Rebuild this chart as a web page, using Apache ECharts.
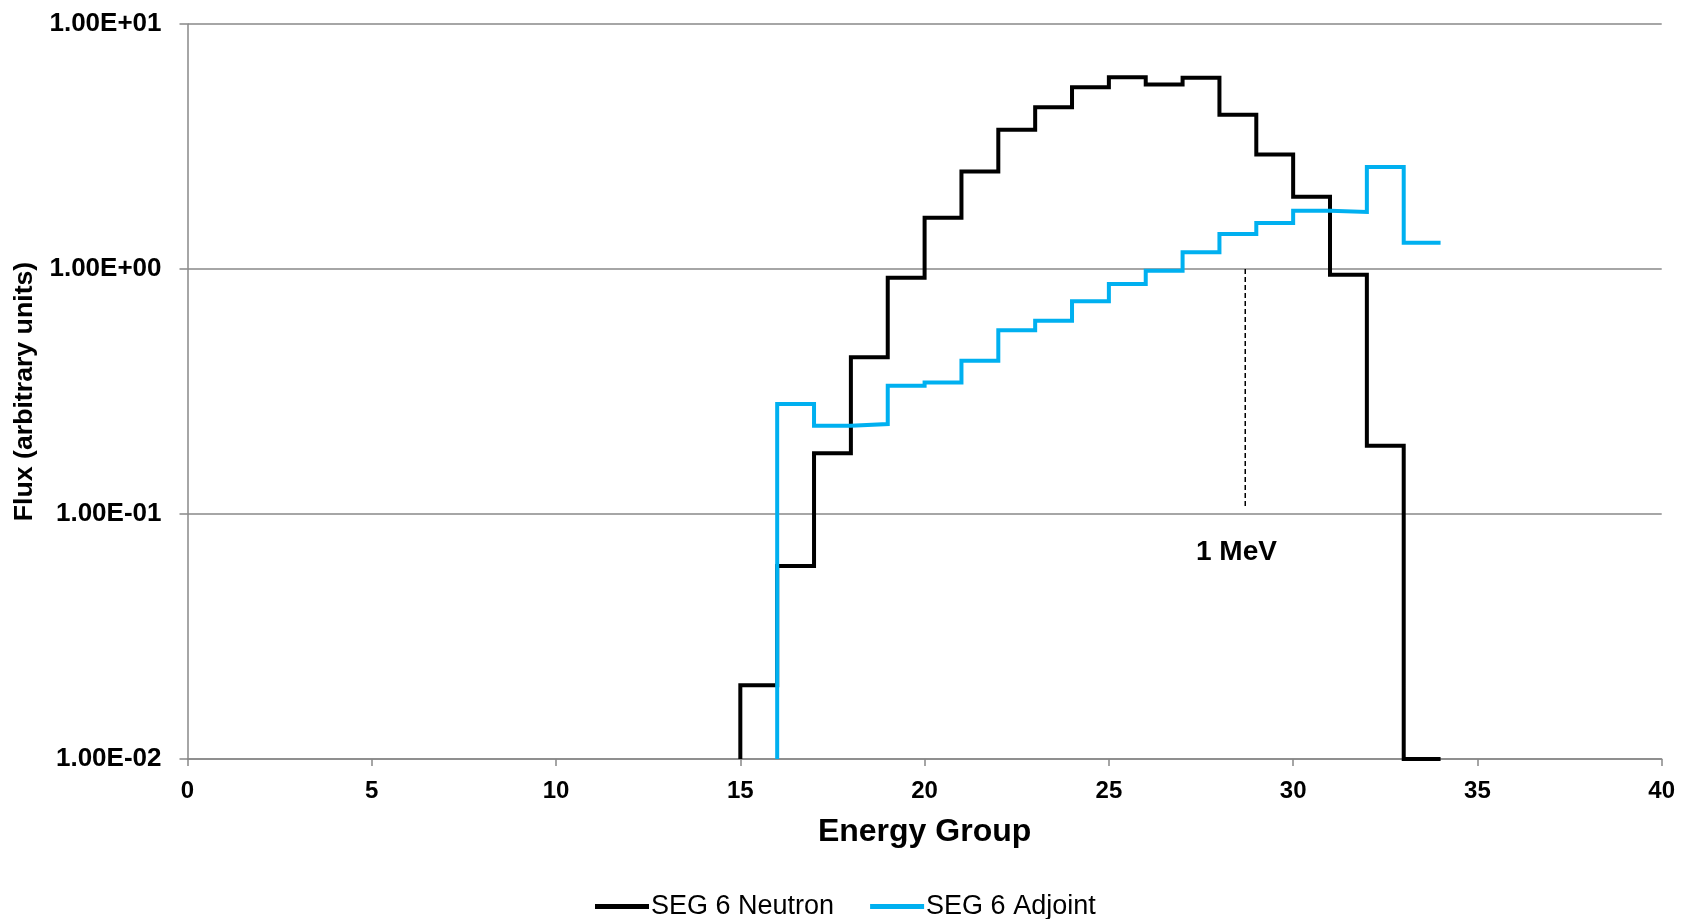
<!DOCTYPE html>
<html>
<head>
<meta charset="utf-8">
<script src="https://cdn.jsdelivr.net/npm/echarts@6/dist/echarts.min.js"></script>
<style>
html,body{margin:0;padding:0;background:#fff;}
#chart{width:1681px;height:919px;}
</style>
</head>
<body>
<div id="chart"></div>
<script>
// ---- data ----
var neutronGroups = [15,16,17,18,19,20,21,22,23,24,25,26,27,28,29,30,31,32,33];
var neutronFlux   = [0.020,0.0614,0.177,0.436,0.92,1.62,2.50,3.70,4.57,5.52,6.06,5.66,6.03,4.26,2.93,1.97,0.948,0.19,0.01];
var adjointGroups = [16,17,18,19,20,21,22,23,24,25,26,27,28,29,30,31,32,33];
var adjointFlux   = [0.281,0.229,0.233,0.334,0.344,0.422,0.563,0.615,0.738,0.869,0.984,1.17,1.39,1.54,1.73,1.71,2.61,1.28];
var lastGroupEdge = 34;
var mevLineX = [28.7, 28.7];
var mevLineY = [1.0, 0.105];
var mevLabel = '1 MeV';
var xTicks = [0,5,10,15,20,25,30,35,40];
var yTickLabels = {'-2':'1.00E-02','-1':'1.00E-01','0':'1.00E+00','1':'1.00E+01'};
var yMin = 0.01, yMax = 10;

function stepData(groups, vals){
  var d = [[groups[0], yMin]];
  for (var i=0;i<groups.length;i++) d.push([groups[i], vals[i]]);
  d.push([lastGroupEdge, vals[vals.length-1]]);
  return d;
}

var FONT = "'Liberation Sans', Arial, Helvetica, sans-serif";
var chart = echarts.init(document.getElementById('chart'));
chart.setOption({
  animation:false,
  backgroundColor:'#fff',
  grid:{left:187.5, right:19.3, top:24, bottom:160, containLabel:false},
  legend:{
    data:['SEG 6 Neutron','SEG 6 Adjoint'],
    left:590, top:888,
    itemWidth:54, itemHeight:5, itemGap:36,
    icon:'rect',
    textStyle:{fontFamily:FONT, fontSize:27, color:'#000', padding:[0,0,0,-3]}
  },
  xAxis:{
    type:'value', min:xTicks[0], max:xTicks[xTicks.length-1], interval:5,
    name:'Energy Group', nameLocation:'middle', nameGap:57,
    nameTextStyle:{fontFamily:FONT, fontSize:32, fontWeight:'bold', color:'#000'},
    axisLine:{show:true, lineStyle:{color:'#888', width:1.5}},
    axisTick:{show:true, length:7, lineStyle:{color:'#888', width:1.5}},
    axisLabel:{fontFamily:FONT, fontSize:24, fontWeight:'bold', color:'#000', margin:20},
    splitLine:{show:false}
  },
  yAxis:{
    type:'log', logBase:10, min:yMin, max:yMax, interval:1,
    name:'Flux (arbitrary units)', nameLocation:'middle', nameGap:148, nameRotate:90,
    nameTextStyle:{fontFamily:FONT, fontSize:26.7, fontWeight:'bold', color:'#000'},
    axisLine:{show:true, lineStyle:{color:'#888', width:1.5}},
    axisTick:{show:true, length:8, lineStyle:{color:'#888', width:1.5}},
    axisLabel:{fontFamily:FONT, fontSize:26, fontWeight:'bold', color:'#000', margin:26,
      formatter:function(v){ var e=Math.round(Math.log10(v)); return yTickLabels[String(e)] || ''; }},
    splitLine:{show:true, lineStyle:{color:'#888', width:1.5}}
  },
  series:[
    {name:'SEG 6 Neutron', type:'line', step:'end', symbol:'none', clip:true,
     data:stepData(neutronGroups, neutronFlux),
     itemStyle:{color:'#000'},
     lineStyle:{color:'#000', width:4, join:'miter', cap:'butt'}},
    {name:'SEG 6 Adjoint', type:'line', step:'end', symbol:'none', clip:true,
     data:stepData(adjointGroups, adjointFlux),
     itemStyle:{color:'#00B0F0'},
     lineStyle:{color:'#00B0F0', width:4, join:'miter', cap:'butt'}},
    {name:'mev', type:'line', symbol:'none', silent:true,
     data:[[mevLineX[0], mevLineY[0]],[mevLineX[1], mevLineY[1]]],
     lineStyle:{color:'#000', width:1.5, type:[5,3]},
     label:{show:false}}
  ],
  graphic:[
    {type:'text', left:1238-42, top:551-13,
     style:{text:mevLabel, fontFamily:FONT, fontSize:28, fontWeight:'bold', fill:'#000'}}
  ]
});
</script>
</body>
</html>
